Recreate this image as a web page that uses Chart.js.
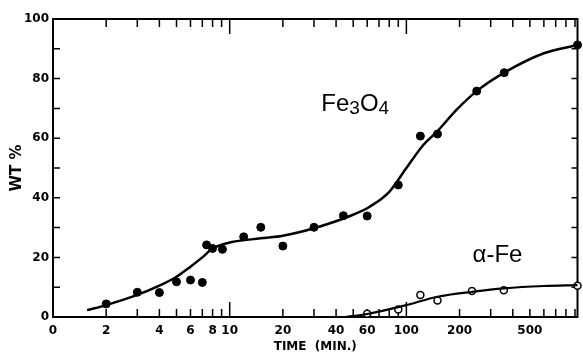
<!DOCTYPE html>
<html>
<head>
<meta charset="utf-8">
<script src="https://cdn.jsdelivr.net/npm/chart.js@4.4.1/dist/chart.umd.min.js"></script>
<style>
  html, body { margin: 0; padding: 0; background: #fff; }
  #contenedor { width: 583px; height: 354px; position: relative; }
</style>
</head>
<body>
<div id="contenedor"><canvas id="grafico"></canvas></div>
<script>
// puntos medidos (tiempo en minutos, % en peso)
const fe3o4Tiempo = [2, 3, 4, 5, 6, 7, 7.4, 8, 9.1, 12, 15, 20, 30, 44, 60, 90, 120, 150, 250, 358, 930];
const fe3o4Peso = [4.4, 8.3, 8.2, 11.8, 12.4, 11.6, 24.2, 23, 22.7, 26.9, 30.1, 23.8, 30.1, 34, 33.9, 44.3, 60.7, 61.4, 75.8, 82, 91.3];
const alfaTiempo = [60, 90, 120, 150, 235, 356, 930];
const alfaPeso = [1.1, 2.5, 7.4, 5.5, 8.7, 9.0, 10.5];

// curvas dibujadas a mano en la figura
const curvaFeTiempo = [1.56, 2, 3, 4, 5, 6, 7, 8, 10, 15, 20, 30, 48, 62, 80, 100, 125, 149, 192, 250, 358, 600, 930];
const curvaFePeso = [2.3, 4, 7.4, 10.5, 13.5, 16.9, 20, 23, 25, 26.4, 27.3, 29.8, 33.9, 37, 42, 50, 57.8, 62.2, 69.5, 75.8, 82, 88.5, 91.3];
const curvaAlfaTiempo = [45, 60, 100, 150, 240, 356, 600, 930];
const curvaAlfaPeso = [0, 1, 4, 6.8, 8.5, 9.6, 10.4, 10.7];

// ejes
const etiquetasTiempoValor = [1, 2, 4, 6, 8, 10, 20, 40, 60, 100, 200, 500];
const etiquetasTiempoTexto = ['0', '2', '4', '6', '8', '10', '20', '40', '60', '100', '200', '500'];
const marcasTiempo = [2, 3, 4, 5, 6, 7, 8, 9, 10, 20, 30, 40, 50, 60, 70, 80, 90, 100, 200, 300, 400, 500, 600, 700, 800, 900];
const marcasLargas = [10, 100];
const marcasPeso = [10, 20, 30, 40, 50, 60, 70, 80, 90];

// rotulos de las curvas
const rotuloFe3o4 = { x: 33, y: 69.2 };
const rotuloAlfa = { x: 237, y: 18.6 };

const juntar = (xs, ys) => xs.map((v, i) => ({ x: v, y: ys[i] }));

const marcoYMarcas = {
  id: 'marcoYMarcas',
  beforeDatasetsDraw(chart) {
    const { ctx, chartArea: a, scales: { x, y } } = chart;
    ctx.save();
    ctx.strokeStyle = '#000';
    ctx.lineWidth = 2;
    ctx.strokeRect(a.left, a.top, a.right - a.left, a.bottom - a.top);
    ctx.lineWidth = 1.5;
    ctx.beginPath();
    for (const v of marcasTiempo) {
      const px = x.getPixelForValue(v);
      const largo = marcasLargas.includes(v) ? 15 : 8;
      ctx.moveTo(px, a.bottom);
      ctx.lineTo(px, a.bottom - largo);
      ctx.moveTo(px, a.top);
      ctx.lineTo(px, a.top + largo);
    }
    for (const v of marcasPeso) {
      const py = y.getPixelForValue(v);
      ctx.moveTo(a.left, py);
      ctx.lineTo(a.left + 7, py);
      ctx.moveTo(a.right, py);
      ctx.lineTo(a.right - 6, py);
    }
    ctx.stroke();
    ctx.restore();
  },
  afterDraw(chart) {
    const { ctx, scales: { x, y } } = chart;
    ctx.save();
    ctx.fillStyle = '#000';
    ctx.textBaseline = 'alphabetic';
    let px = x.getPixelForValue(rotuloFe3o4.x);
    const py = y.getPixelForValue(rotuloFe3o4.y);
    const partes = [['Fe', 24, 0], ['3', 19, 3], ['O', 24, 0], ['4', 19, 3]];
    for (const [texto, tam, baja] of partes) {
      ctx.font = tam + 'px "Liberation Sans", Arial, sans-serif';
      ctx.fillText(texto, px, py + baja);
      px += ctx.measureText(texto).width;
    }
    ctx.font = '24px "Liberation Sans", Arial, sans-serif';
    ctx.fillText('α-Fe', x.getPixelForValue(rotuloAlfa.x), y.getPixelForValue(rotuloAlfa.y));
    ctx.restore();
  }
};

const fuenteEjes = { family: '"DejaVu Sans", sans-serif', weight: 'bold', size: 12 };

new Chart(document.getElementById('grafico'), {
  type: 'scatter',
  data: {
    datasets: [
      {
        type: 'line',
        data: juntar(curvaFeTiempo, curvaFePeso),
        borderColor: '#000',
        borderWidth: 2.5,
        pointRadius: 0,
        cubicInterpolationMode: 'monotone',
        fill: false,
        clip: false
      },
      {
        type: 'line',
        data: juntar(curvaAlfaTiempo, curvaAlfaPeso),
        borderColor: '#000',
        borderWidth: 2.2,
        pointRadius: 0,
        cubicInterpolationMode: 'monotone',
        fill: false,
        clip: false
      },
      {
        data: juntar(fe3o4Tiempo, fe3o4Peso),
        backgroundColor: '#000',
        borderColor: '#000',
        pointRadius: 4,
        clip: false
      },
      {
        data: juntar(alfaTiempo, alfaPeso),
        backgroundColor: '#fff',
        borderColor: '#000',
        borderWidth: 1.5,
        pointRadius: 3.5,
        clip: false
      }
    ]
  },
  options: {
    responsive: true,
    maintainAspectRatio: false,
    animation: false,
    layout: { padding: { left: 0, top: 19, right: 5, bottom: 0 } },
    plugins: { legend: { display: false }, tooltip: { enabled: false } },
    scales: {
      x: {
        type: 'logarithmic',
        min: 1,
        max: 930,
        afterBuildTicks: eje => { eje.ticks = etiquetasTiempoValor.map(v => ({ value: v })); },
        afterFit: eje => { eje.height = 37; },
        ticks: {
          autoSkip: false,
          maxRotation: 0,
          padding: 7,
          color: '#000',
          font: fuenteEjes,
          callback: v => etiquetasTiempoTexto[etiquetasTiempoValor.indexOf(v)]
        },
        grid: { display: false, drawTicks: false },
        border: { display: false },
        title: {
          display: true,
          text: 'TIME  (MIN.)',
          color: '#000',
          font: fuenteEjes,
          padding: { top: 0, bottom: 0 }
        }
      },
      y: {
        min: 0,
        max: 100,
        afterFit: eje => { eje.width = 53; },
        ticks: { stepSize: 20, padding: 4, color: '#000', font: fuenteEjes },
        grid: { display: false, drawTicks: false },
        border: { display: false },
        title: {
          display: true,
          text: 'WT %',
          color: '#000',
          font: { family: '"DejaVu Sans", sans-serif', weight: 'bold', size: 15 },
          padding: { top: 8, bottom: 0 }
        }
      }
    }
  },
  plugins: [marcoYMarcas]
});
</script>
</body>
</html>
